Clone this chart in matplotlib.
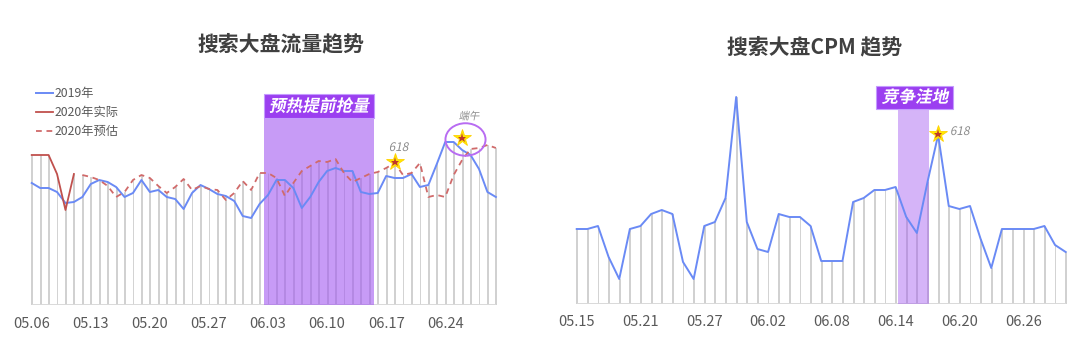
import numpy as np
import matplotlib
matplotlib.use("Agg")
import matplotlib.pyplot as plt
import matplotlib.patheffects as pe
from matplotlib.patches import Rectangle, Ellipse
from matplotlib.transforms import Affine2D
from matplotlib.lines import Line2D

plt.rcParams['font.family'] = ['Noto Sans CJK SC', 'DejaVu Sans']

# ── data: search traffic, daily 05.06 – 06.30 ────────────────────────────────
flow_2019 = [122, 117, 117, 113, 102, 103, 108, 121, 125, 123, 118, 108, 112, 125,
             113, 115, 108, 106, 96, 112, 120, 116, 111, 109, 104, 89, 87, 101,
             110, 125, 125, 117, 97, 108, 123, 134, 137, 134, 134, 113, 111, 112,
             129, 127, 127, 131, 118, 120, 141, 163, 163, 155, 150, 136, 113, 108]
flow_2020_actual = [150, 150, 150, 131, 95, 131]          # 05.06 – 05.11
flow_2020_est = [130, 128, 125, 119, 108, 113, 125, 130, 127, 119, 112, 118, 126,
                 115, 119, 116, 115, 105, 112, 124, 115, 132, 132, 127, 109, 122,
                 134, 139, 144, 143, 146, 132, 123, 127, 131, 133, 137, 142, 130,
                 132, 142, 108, 110, 108, 130, 145, 156, 157, 160, 157]  # 05.12 – 06.30
flow_ticks = ['05.06', '05.13', '05.20', '05.27', '06.03', '06.10', '06.17', '06.24']

# ── data: search CPM, daily 05.15 – 06.30 ────────────────────────────────────
cpm = [75, 75, 78, 47, 25, 75, 78, 90, 94, 90, 42, 25, 78, 82, 106, 207, 82, 55,
       52, 90, 87, 87, 78, 43, 43, 43, 102, 106, 114, 114, 117, 87, 71, 122, 169,
       98, 95, 98, 65, 36, 75, 75, 75, 75, 78, 59, 52]
cpm_ticks = ['05.15', '05.21', '05.27', '06.02', '06.08', '06.14', '06.20', '06.26']

# ── style ────────────────────────────────────────────────────────────────────
BLUE = "#6a8af5"
RED = "#c0504d"
RED_D = "#d06a6a"
BAR_FACE = "#e4e4e4"
BAR_EDGE = "#cbcbcb"
BASE = "#d9d9d9"
PURPLE = "#a259f0"
BOX = "#9b3ff0"
TXT = "#595959"
NOTE = "#8c8c8c"
STAR_Y = "#ffea00"
STAR_R = "#c0392b"


class Slant(pe.AbstractPathEffect):
    """fake italic for CJK fonts that have no italic face"""
    def __init__(self, deg=12):
        super().__init__()
        self.deg = deg

    def draw_path(self, renderer, gc, tpath, affine, rgbFace=None):
        renderer.draw_path(gc, tpath, Affine2D().skew_deg(self.deg, 0) + affine, rgbFace)


def star(ax, x, y):
    ax.plot([x], [y], marker="*", ms=13, mfc=STAR_Y, mec="#ffd200", mew=0.6, zorder=8)
    ax.plot([x], [y], marker="*", ms=6.5, mfc=STAR_R, mec=STAR_R, mew=0, zorder=9)


W, H = 1080, 363
fig = plt.figure(figsize=(W / 100, H / 100), dpi=100)

# ── left: traffic ────────────────────────────────────────────────────────────
axL = fig.add_axes([27.5 / W, (H - 305) / H, 472.6 / W, 220 / H])
n = len(flow_2019)
x = np.arange(n)
actual = np.full(n, np.nan)
actual[:len(flow_2020_actual)] = flow_2020_actual
est = np.full(n, np.nan)
est[len(flow_2020_actual):] = flow_2020_est
bar_h = np.nanmax(np.vstack([flow_2019, actual, est]), axis=0)

axL.bar(x, bar_h, width=0.1, color=BAR_FACE, edgecolor=BAR_EDGE, linewidth=0.6, zorder=1)
axL.plot([0, n - 1], [0, 0], color=BASE, lw=1.4, zorder=2, solid_capstyle="butt")
axL.add_patch(Rectangle((27.5, 0), 13.1, 187, color=PURPLE, alpha=0.6, lw=0, zorder=3))
axL.add_patch(Rectangle((27.5, 187), 13.1, 24, facecolor=BOX, edgecolor="#c49bff",
                        lw=0.8, zorder=4))
axL.text(34.0, 198.5, "预热提前抢量", ha="center", va="center", color="white",
         fontsize=12, fontweight="bold", zorder=5, path_effects=[Slant()])

axL.plot(x, flow_2019, color=BLUE, lw=1.4, zorder=6)
axL.plot(x, actual, color=RED, lw=1.3, zorder=6)
axL.plot(x, est, color=RED_D, lw=1.3, ls=(0, (3.2, 2.6)), zorder=6)

# 618 and 端午 notes
star(axL, 43, est[43] + 1)
axL.text(43.45, 157.5, "618", ha="center", va="center", color=NOTE, fontsize=8.5,
         path_effects=[Slant()])
star(axL, 51, 167)
axL.add_patch(Ellipse((51.4, 165.5), 4.75, 32.5, fill=False, edgecolor="#b86cf2",
                      lw=1.4, zorder=7))
axL.text(51.8, 188.5, "端午", ha="center", va="center", color=NOTE, fontsize=7.5,
         path_effects=[Slant()])

axL.set_xlim(-0.5, n - 0.5)
axL.set_ylim(0, 220)
axL.set_xticks(range(0, n, 7))
axL.set_xticklabels(flow_ticks)
axL.set_yticks([])
axL.tick_params(axis="x", length=0, pad=9, labelsize=10.5, labelcolor=TXT)
for s in axL.spines.values():
    s.set_visible(False)

handles = [
    Line2D([], [], color=BLUE, lw=1.4, label="2019年"),
    Line2D([], [], color=RED, lw=1.3, label="2020年实际"),
    Line2D([], [], color=RED_D, lw=1.3, ls=(0, (3.2, 2.6)), label="2020年预估"),
]
fig.legend(handles=handles, loc="upper left", bbox_to_anchor=(36 / W, 1 - 87 / H),
           frameon=False, fontsize=8.8, handlelength=1.35, handletextpad=0.15,
           labelspacing=0.5, borderpad=0, borderaxespad=0, labelcolor=TXT)

# ── right: CPM ───────────────────────────────────────────────────────────────
axR = fig.add_axes([571.4 / W, (H - 304) / H, 499.6 / W, 220 / H])
m = len(cpm)
xr = np.arange(m)
axR.bar(xr, cpm, width=0.08, color=BAR_FACE, edgecolor=BAR_EDGE, linewidth=0.6, zorder=1)
axR.plot([0, m - 1], [0, 0], color=BASE, lw=1.4, zorder=2, solid_capstyle="butt")
axR.add_patch(Rectangle((30.2, 0), 2.95, 195, color=PURPLE, alpha=0.45, lw=0, zorder=3))
axR.add_patch(Rectangle((28.2, 195), 7.2, 23, facecolor=BOX, edgecolor="#c49bff",
                        lw=0.8, zorder=4))
axR.text(31.8, 206.5, "竞争洼地", ha="center", va="center", color="white",
         fontsize=12, fontweight="bold", zorder=5, path_effects=[Slant()])
axR.plot(xr, cpm, color=BLUE, lw=1.4, zorder=6)
star(axR, 34, cpm[34] + 1)
axR.text(35.1, 172.5, "618", ha="left", va="center", color=NOTE, fontsize=8.5,
         path_effects=[Slant()])

axR.set_xlim(-0.5, m - 0.5)
axR.set_ylim(0, 220)
axR.set_xticks(range(0, m, 6))
axR.set_xticklabels(cpm_ticks)
axR.set_yticks([])
axR.tick_params(axis="x", length=0, pad=8, labelsize=10.5, labelcolor=TXT)
for s in axR.spines.values():
    s.set_visible(False)

# ── titles ───────────────────────────────────────────────────────────────────
fig.text(281 / W, 1 - 44 / H, "搜索大盘流量趋势", ha="center", va="center",
         fontsize=15, fontweight="bold", color="#404040")
fig.text(815 / W, 1 - 47 / H, "搜索大盘CPM 趋势", ha="center", va="center",
         fontsize=15, fontweight="bold", color="#404040")

fig.savefig("out.png", dpi=100, facecolor="white")
